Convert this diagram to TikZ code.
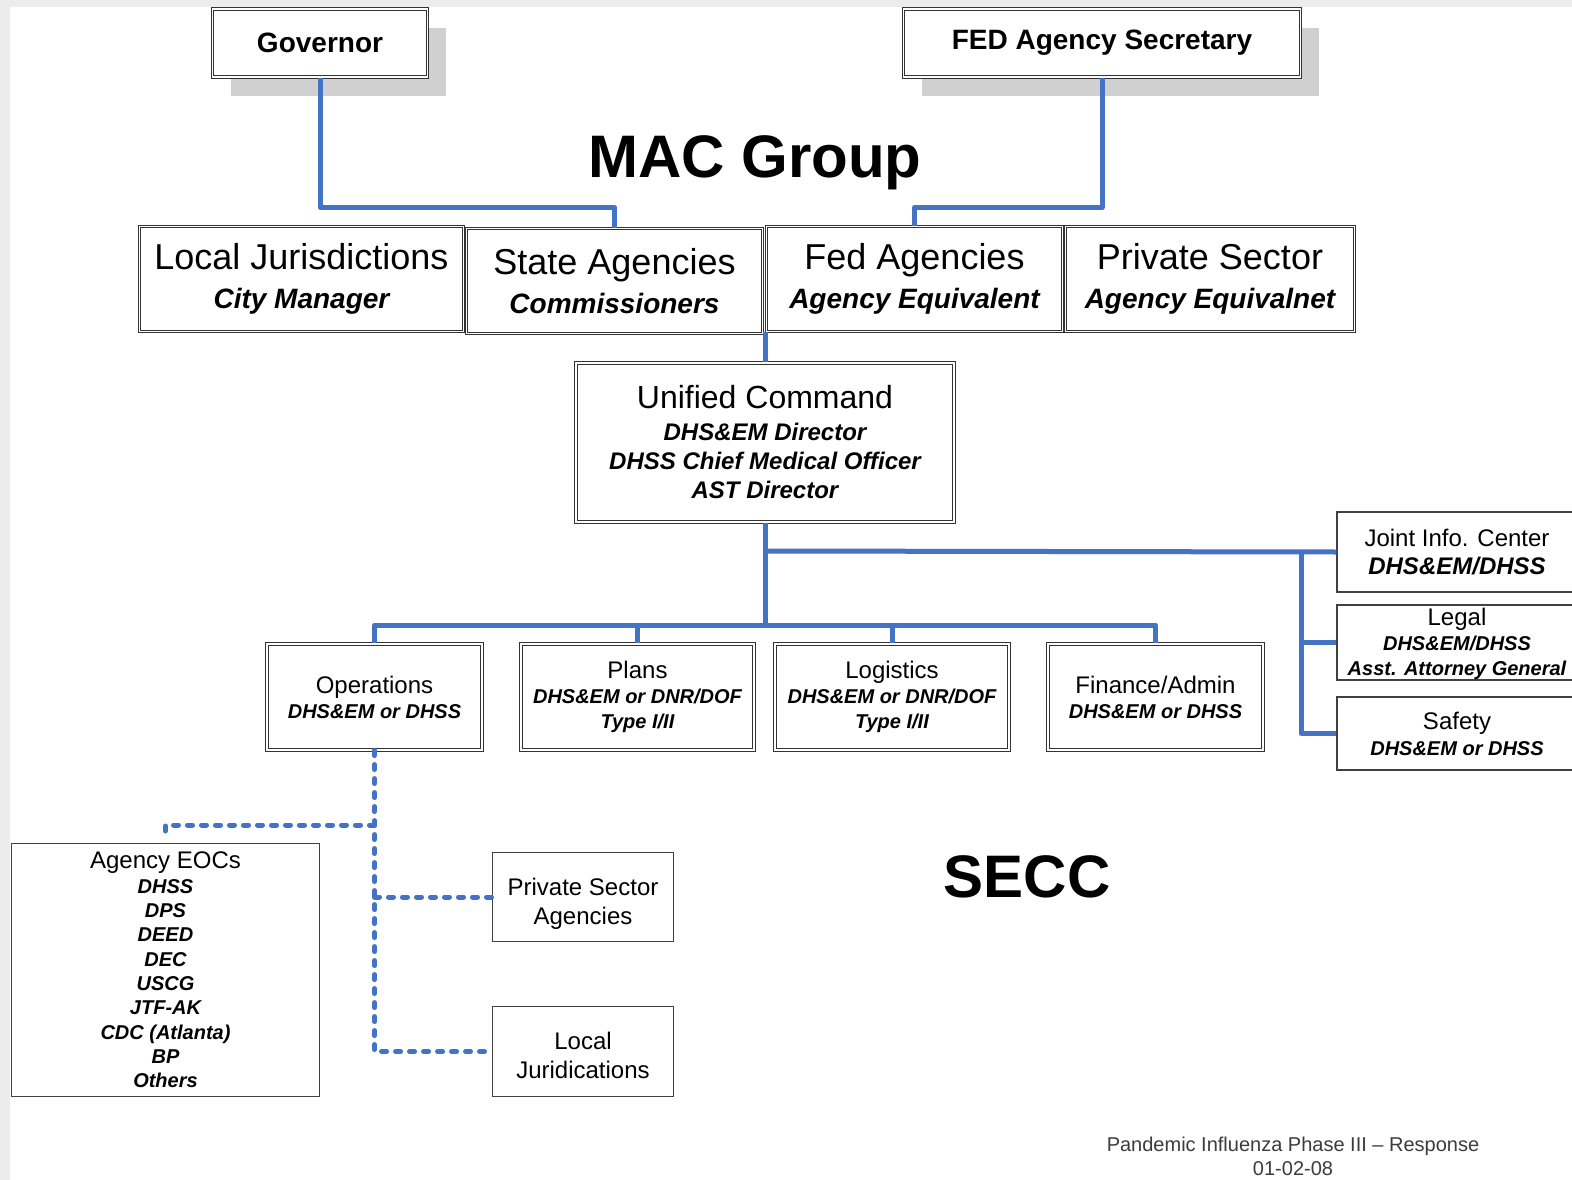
\documentclass[tikz,border=0pt]{standalone}
\usepackage{fontspec}
\setmainfont{Liberation Sans}
\usetikzlibrary{shadows}
\definecolor{blueline}{RGB}{68,114,196}
\definecolor{bggray}{RGB}{236,236,236}
\definecolor{shadowgray}{RGB}{208,208,208}
\definecolor{footgray}{RGB}{60,60,60}
\newcommand{\fs}[2]{\fontsize{#1}{#2}\selectfont}
\newcommand{\bi}{\bfseries\itshape}
\tikzset{
  dbox/.style={draw=black!80, double=white, double distance=1.6pt, line width=1.1pt,
    fill=white, inner sep=0pt, align=center},
  sbox/.style={draw=black!75, line width=1.4pt, fill=white, inner sep=0pt, align=center},
  shadowed/.style={drop shadow={shadow xshift=18pt, shadow yshift=-19pt, fill=shadowgray, opacity=1}},
  conn/.style={draw=blueline, line width=5pt, line join=round},
  dconn/.style={draw=blueline, line width=5pt, dash pattern=on 5pt off 9pt, line cap=round, line join=round},
  bigtitle/.style={font=\fs{60}{66}\bfseries, inner sep=0pt, anchor=base}
}
\begin{document}
\begin{tikzpicture}[x=1pt,y=-1pt]
\useasboundingbox (0,0) rectangle (1572,1180);
\clip (0,0) rectangle (1572,1180);
\fill[bggray] (0,0) rectangle (1572,1180);
\fill[white] (10,7) rectangle (1572,1180);

% top boxes
\node[dbox, shadowed, minimum width=215, minimum height=68, font=\fs{28}{32}\bfseries] (gov) at (320,43) {Governor};
\node[dbox, shadowed, minimum width=397, minimum height=68, font=\fs{28}{32}\bfseries] (fed) at (1102,43) {FED Agency Secretary};

\node[bigtitle] (mac) at (755,178) {MAC Group};

% MAC group row
\node[dbox, minimum width=324, minimum height=105, font=\fs{28}{39}] (local) at (301.5,279)
  {\fs{36}{39}Local Jurisdictions\\\bi City Manager};
\node[dbox, minimum width=296, minimum height=105, font=\fs{28}{39}] (state) at (614.5,281)
  {\fs{36}{39}State Agencies\\\bi Commissioners};
\node[dbox, minimum width=296, minimum height=105, font=\fs{28}{39}] (fedag) at (914.5,279)
  {\fs{36}{39}Fed Agencies\\\bi Agency Equivalent};
\node[dbox, minimum width=289, minimum height=105, font=\fs{28}{39}] (priv) at (1210,279)
  {\fs{36}{39}Private Sector\\\bi Agency Equivalnet};

% Unified command
\node[dbox, minimum width=378, minimum height=159, font=\fs{24}{29}] (uc) at (765,442.5)
  {\fs{32}{29}Unified Command\\[3pt]\bi DHS\&EM Director\\\bi DHSS Chief Medical Officer\\\bi AST Director};

% staff
\node[sbox, minimum width=240, minimum height=80, font=\fs{24}{28}] (jic) at (1457,552)
  {Joint Info. Center\\\bi DHS\&EM/DHSS};
\node[sbox, minimum width=240, minimum height=75, font=\fs{20}{25}] (legal) at (1457,642.5)
  {\fs{24}{25}\rule{0pt}{20pt}Legal\\\bi DHS\&EM/DHSS\\\bi Asst. Attorney General};
\node[sbox, minimum width=240, minimum height=73, font=\fs{20}{26}] (safety) at (1457,733.5)
  {\fs{24}{26}Safety\\\bi DHS\&EM or DHSS};

% sections
\node[dbox, minimum width=215, minimum height=106, font=\fs{20}{25}] (ops) at (374.5,697)
  {\fs{24}{25}Operations\\\bi DHS\&EM or DHSS};
\node[dbox, minimum width=233, minimum height=106, font=\fs{20}{25}] (plans) at (637.5,697)
  {\fs{24}{25}Plans\\\bi DHS\&EM or DNR/DOF\\\bi Type I/II};
\node[dbox, minimum width=234, minimum height=106, font=\fs{20}{25}] (logi) at (892,697)
  {\fs{24}{25}Logistics\\\bi DHS\&EM or DNR/DOF\\\bi Type I/II};
\node[dbox, minimum width=215, minimum height=106, font=\fs{20}{25}] (fin) at (1155.5,697)
  {\fs{24}{25}Finance/Admin\\\bi DHS\&EM or DHSS};

% operations branch
\node[sbox, minimum width=308, minimum height=253, font=\fs{20}{24.3}\bi] (eoc) at (165.5,970)
  {\fs{24}{24.3}\mdseries\upshape Agency EOCs\\DHSS\\DPS\\DEED\\DEC\\USCG\\JTF-AK\\CDC (Atlanta)\\BP\\Others};
\node[sbox, minimum width=181, minimum height=89, font=\fs{24}{29}] (psa) at (583,897)
  {\rule{0pt}{31pt}Private Sector\\Agencies};
\node[sbox, minimum width=181, minimum height=90, font=\fs{24}{29}] (locj) at (583,1051.5)
  {\rule{0pt}{26pt}Local\\Juridications};

\node[bigtitle] (secc) at (1027,897) {SECC};

\node[align=center, inner sep=0pt, text=footgray, font=\fs{20}{24}] (foot) at (1293,1156)
  {Pandemic Influenza Phase III -- Response\\01-02-08};

% connectors
\draw[conn] (gov.south) -- ++(0,130) -| (state.north);
\draw[conn] (fed.south) -- ++(0,130) -| (fedag.north);
\draw[conn] (uc.north) -- (uc.north |- fedag.south);

\coordinate (bus) at (765,625);
\draw[conn] (uc.south) -- (bus);
\draw[conn] (ops.north) |- (bus) -| (fin.north);
\draw[conn] (plans.north) -- (plans.north |- bus);
\draw[conn] (logi.north) -- (logi.north |- bus);

\coordinate (stf) at (1301,551);
\draw[conn] (uc.south |- stf) -- (jic.west);
\draw[conn] (stf) |- (safety.west);
\draw[conn] (stf |- legal.west) -- (legal.west);

\coordinate (ej) at (374.5,825);
\draw[dconn] (ops.south) -- (ops.south |- locj.west) -- (locj.west);
\draw[dconn] (ops.south |- psa.west) -- (psa.west);
\draw[dconn, shorten >=9pt] (ej) -| (eoc.north);
\end{tikzpicture}
\end{document}
